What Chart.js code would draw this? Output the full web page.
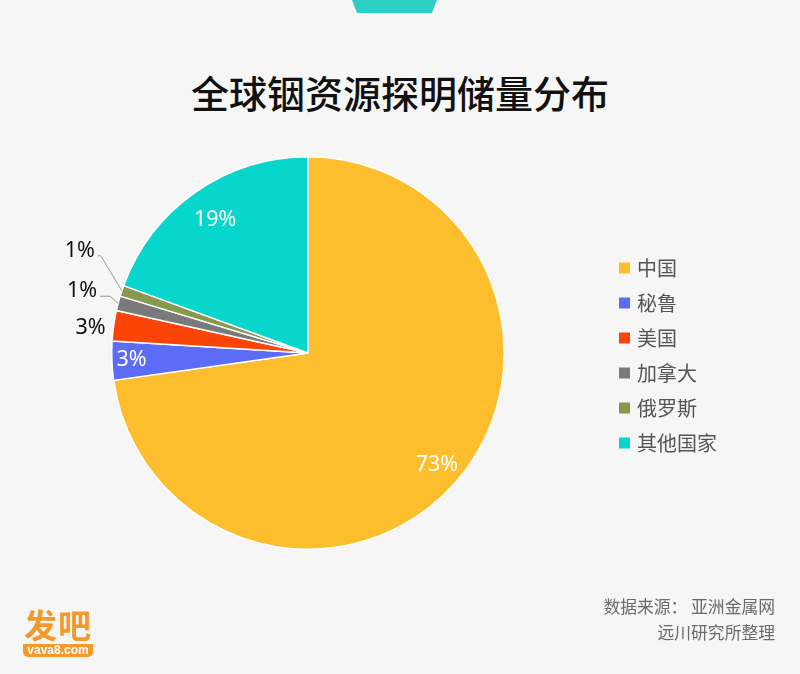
<!DOCTYPE html>
<html>
<head>
<meta charset="utf-8">
<script src="https://cdn.jsdelivr.net/npm/chart.js@4.4.1/dist/chart.umd.min.js"></script>
<style>
  body { margin: 0; background: #f6f6f6; }
  #wrap { position: relative; width: 800px; height: 674px; overflow: hidden; background: #f6f6f6; }
  #tab { position: absolute; left: 352px; top: 0; width: 85px; height: 13px; background: #2ccfc5;
         clip-path: polygon(0 0, 100% 0, 94% 100%, 6% 100%); }
  #title { position: absolute; left: 0; top: 64px; width: 800px; text-align: center;
           font-family: "Noto Sans CJK SC", sans-serif; font-size: 38px; font-weight: 500; color: #111; }
  #source { position: absolute; right: 25px; top: 593px; text-align: right;
            font-family: "Noto Sans CJK SC", sans-serif; font-size: 16.8px; line-height: 26px; color: #6b6b6b; }
  #logo { position: absolute; left: 23px; top: 605px; width: 70px; text-align: center; }
  #logo .big { font-family: "Noto Sans CJK SC", sans-serif; font-size: 33px; font-weight: 700;
               color: #f59a2a; line-height: 39px; letter-spacing: 1px; }
  #logo .small { background: #f59a2a; color: #fff; font-family: "Liberation Sans", sans-serif;
                 font-size: 12px; font-weight: 700; line-height: 13px; border-radius: 0 0 5px 5px; }
  canvas { position: absolute; left: 0; top: 0; }
</style>
</head>
<body>
<div id="wrap">
  <div id="tab"></div>
  <div id="title">全球铟资源探明储量分布</div>
  <canvas id="myChart" width="800" height="674"></canvas>
  <div id="source">数据来源： 亚洲金属网<br>远川研究所整理</div>
  <div id="logo"><div class="big">发吧</div><div class="small">vava8.com</div></div>
</div>
<script>
  var countries = ['中国', '秘鲁', '美国', '加拿大', '俄罗斯', '其他国家']; // slice names
  var shares = [72.7, 3.2, 2.5, 1.2, 0.9, 19.4]; // % of reserves
  var colors = ['#fdbe2d', '#5c6cf6', '#fb4508', '#7a7a7a', '#86994c', '#06d6cb'];

  // where each percent label goes (inside at k * radius, or outside with a leader line)
  var labelPlace = [
    { k: 0.87 },
    { k: 0.9 },
    { out: true, dx: -8, dy: 2 },
    { out: true, elbow: [-8, -7], run: 10 },
    { out: true, elbow: [-21, -35], run: 3 },
    { k: 0.825 }
  ];

  var pctFont = '21.5px "Noto Sans", "Open Sans", sans-serif';

  const labelsPlugin = {
    id: 'pieLabels',
    afterDatasetsDraw(chart) {
      var ctx = chart.ctx;
      var meta = chart.getDatasetMeta(0);
      ctx.save();
      ctx.font = pctFont;
      meta.data.forEach(function (arc, i) {
        var p = arc.getProps(['x', 'y', 'startAngle', 'endAngle', 'outerRadius'], true);
        var mid = (p.startAngle + p.endAngle) / 2;
        var cos = Math.cos(mid), sin = Math.sin(mid);
        var txt = Math.round(shares[i]) + '%';
        var place = labelPlace[i];
        if (!place.out) {
          ctx.fillStyle = '#fff';
          ctx.textAlign = 'center';
          ctx.textBaseline = 'middle';
          ctx.fillText(txt, p.x + cos * p.outerRadius * place.k, p.y + sin * p.outerRadius * place.k);
          return;
        }
        var ex = p.x + cos * p.outerRadius, ey = p.y + sin * p.outerRadius;
        ctx.fillStyle = '#111';
        ctx.textAlign = 'right';
        if (!place.elbow) {
          ctx.textBaseline = 'middle';
          ctx.fillText(txt, ex + place.dx, ey + place.dy);
          return;
        }
        var bx = ex + place.elbow[0], by = ey + place.elbow[1];
        var cx = bx - place.run;
        ctx.strokeStyle = '#9a9a9a';
        ctx.lineWidth = 1;
        ctx.beginPath();
        ctx.moveTo(ex, ey);
        ctx.lineTo(bx, by);
        ctx.lineTo(cx, by);
        ctx.stroke();
        ctx.textBaseline = 'alphabetic';
        ctx.fillText(txt, cx - 3, by + 1);
      });

      // legend on the right
      ctx.font = '20px "Noto Sans CJK SC", sans-serif';
      ctx.textAlign = 'left';
      ctx.textBaseline = 'middle';
      chart.data.labels.forEach(function (name, i) {
        var y = 268 + i * 35;
        ctx.fillStyle = colors[i];
        ctx.fillRect(619, y - 5.5, 11, 11);
        ctx.fillStyle = '#555';
        ctx.fillText(name, 637, y);
      });
      ctx.restore();
    }
  };

  function displayPie() {
    var grapharea = document.getElementById('myChart');

    const data = {
      labels: countries,
      datasets: [{
        data: shares,
        backgroundColor: colors,
        borderColor: '#ffffff',
        borderWidth: 1.5
      }]
    };

    const config = {
      type: 'pie',
      data: data,
      options: {
        responsive: false,
        animation: false,
        layout: { padding: { left: 111, right: 295, top: 156, bottom: 124 } },
        plugins: {
          legend: { display: false },
          tooltip: { enabled: false }
        }
      },
      plugins: [labelsPlugin]
    };

    const myChart = new Chart(grapharea, config);
  }
  displayPie();
</script>
</body>
</html>
